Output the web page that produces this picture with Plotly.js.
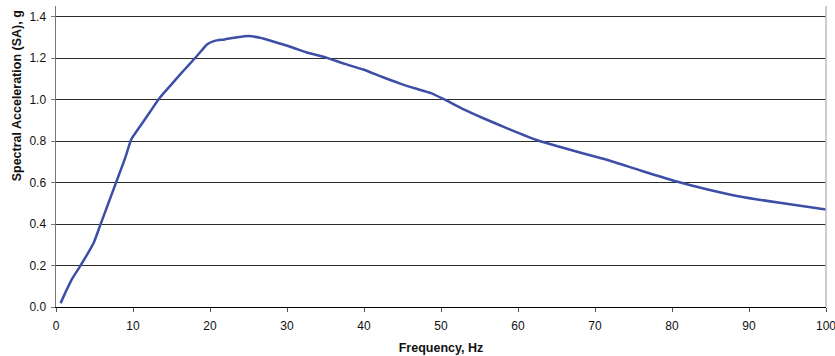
<!DOCTYPE html>
<html>
<head>
<meta charset="utf-8">
<script src="https://cdn.plot.ly/plotly-3.0.1.min.js"></script>
<style>html,body{margin:0;padding:0;background:#fff;}#chart{width:835px;height:356px;}</style>
</head>
<body>
<div id="chart"></div>
<script>
const frequencyHz = [0.6, 1.2, 2.0, 3.1, 4.0, 4.9, 5.7, 6.8, 7.9, 9.0, 9.8, 10.9, 12.2, 13.5, 14.8, 16.1, 17.2, 18.3, 19.0, 19.6, 20.6, 21.9, 23.5, 25.0, 26.5, 28.2, 30.8, 32.5, 35.2, 37.5, 39.9, 42.3, 44.7, 46.7, 48.6, 50.3, 52.8, 55.5, 59.0, 62.4, 65.5, 68.5, 71.5, 76.0, 80.6, 84.5, 88.8, 94.0, 100.0];
const spectralAccelG = [0.018, 0.068, 0.13, 0.195, 0.25, 0.31, 0.39, 0.50, 0.61, 0.72, 0.81, 0.87, 0.94, 1.01, 1.065, 1.12, 1.165, 1.21, 1.24, 1.266, 1.283, 1.29, 1.30, 1.306, 1.298, 1.28, 1.25, 1.228, 1.201, 1.172, 1.145, 1.11, 1.077, 1.053, 1.032, 1.003, 0.955, 0.91, 0.855, 0.805, 0.771, 0.74, 0.71, 0.657, 0.605, 0.568, 0.533, 0.502, 0.47];
const xTicks = [0, 10, 20, 30, 40, 50, 60, 70, 80, 90, 100];
const yTicks = [0.0, 0.2, 0.4, 0.6, 0.8, 1.0, 1.2, 1.4];

const tickFont = {family: 'Liberation Sans, Arial, sans-serif', size: 12, color: '#111'};
const titleFont = {family: 'Liberation Sans, Arial, sans-serif', size: 12.5, color: '#111'};

Plotly.newPlot('chart', [{
  x: frequencyHz,
  y: spectralAccelG,
  type: 'scatter',
  mode: 'lines',
  line: {color: '#3d4ea6', width: 2.5, shape: 'spline', smoothing: 0.6},
  hoverinfo: 'skip'
}], {
  width: 835, height: 356,
  margin: {l: 56, r: 9, t: 6, b: 49},
  paper_bgcolor: '#fff', plot_bgcolor: '#fff',
  showlegend: false,
  font: tickFont,
  xaxis: {
    range: [0, 100], tickvals: xTicks, ticktext: xTicks.map(String),
    showgrid: false, zeroline: false,
    showline: true, linecolor: '#000', linewidth: 1,
    ticks: 'outside', ticklen: 4, tickcolor: '#555', tickwidth: 1,
    tickfont: tickFont, ticklabeloverflow: 'allow', ticklabelstandoff: 4,
    title: {text: '<b>Frequency, Hz</b>', font: titleFont, standoff: 10}
  },
  yaxis: {
    range: [0, 1.451], tickvals: yTicks, ticktext: yTicks.map(v => v.toFixed(1)),
    showgrid: true, gridcolor: '#2a2a2a', gridwidth: 1,
    zeroline: false,
    showline: true, linecolor: '#777', linewidth: 1.5,
    ticks: 'outside', ticklen: 4, tickcolor: '#777', tickwidth: 1,
    tickfont: tickFont, ticklabelstandoff: 2
  },
  shapes: [{type: 'line', xref: 'paper', yref: 'paper', x0: 1, x1: 1, y0: 0, y1: 1, line: {color: '#bbb', width: 1.5}}],
  annotations: [{
    text: '<b>Spectral Acceleration (SA), g</b>', textangle: -90,
    xref: 'paper', yref: 'paper', x: -0.0506, y: 0.70,
    xanchor: 'center', yanchor: 'middle', showarrow: false, font: titleFont
  }]
}, {displayModeBar: false, staticPlot: true});
</script>
</body>
</html>
